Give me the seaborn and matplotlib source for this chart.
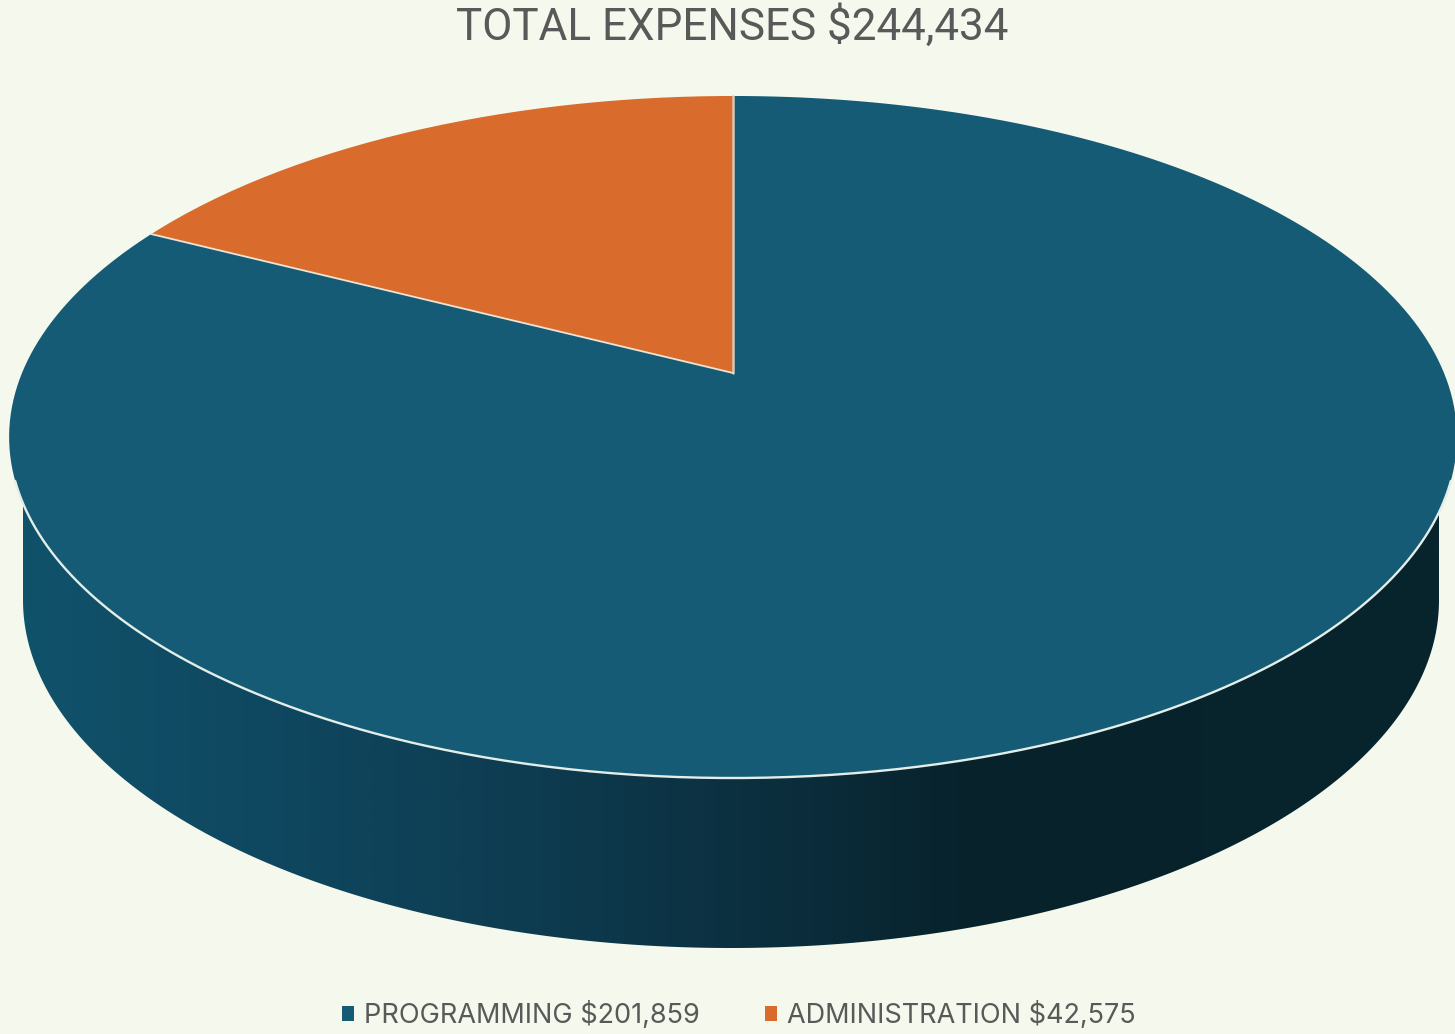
import numpy as np
import seaborn as sns
from matplotlib import pyplot as plt
from matplotlib.colors import LinearSegmentedColormap
from matplotlib.patches import Polygon
from matplotlib.path import Path
from matplotlib.transforms import Transform

labels = ['PROGRAMMING $201,859', 'ADMINISTRATION $42,575']
amounts = [201859, 42575]
colors = ['#155B76', '#D96C2C']
title = 'TOTAL EXPENSES $244,434'

bg = '#F5F8EC'
text_col = '#595959'
rim_col = '#E3EEE8'
# side wall shading, left to right
wall_stops = [(0.0, '#11526B'), (0.2, '#0E465E'), (0.34, '#0E3D52'), (0.48, '#0C3243'),
              (0.56, '#0B2C3A'), (0.67, '#07222B'), (1.0, '#08242D')]


# tilted disc: unit circle seen in perspective, output is in image pixels
class TiltedDisc(Transform):
    input_dims = 2
    output_dims = 2
    is_separable = False

    def __init__(self, cx=733, cy=373, sx=711, sy=329, k=0.1877):
        super().__init__()
        self.cx, self.cy, self.sx, self.sy, self.k = cx, cy, sx, sy, k

    def transform_non_affine(self, values):
        values = np.asarray(values)
        d = 1 + self.k * values[:, 1]
        return np.column_stack([self.cx + self.sx * values[:, 0] / d,
                                self.cy - self.sy * values[:, 1] / d])

    def transform_path_non_affine(self, path):
        if path.codes is None:
            return Path(self.transform_non_affine(path.vertices))
        # flatten the curves first, control points do not survive the tilt
        big = Path(path.vertices * 1000, path.codes)
        poly = big.to_polygons(closed_only=True)[0] / 1000
        return Path(self.transform_non_affine(poly), closed=True)


sns.set_theme(style='white', rc={'figure.facecolor': bg, 'axes.facecolor': bg})
plt.rcParams['font.family'] = ['Roboto', 'DejaVu Sans']

fig = plt.figure(figsize=(14.55, 10.34), dpi=100)
ax = fig.add_axes([0, 0, 1, 1])

palette = sns.color_palette(colors)
wedges, _ = ax.pie(amounts, colors=palette, startangle=90, counterclock=False, radius=1)
ax.set_aspect('auto')
ax.axis('off')

top_disc = TiltedDisc()
for w in wedges:
    w.set_transform(top_disc + ax.transData)
    w.set_linewidth(0)
    w.set_zorder(3)

# side wall: gradient clipped to the outline from top rim to lower rim
t = np.linspace(0, 2 * np.pi, 721)
circle = np.column_stack([np.cos(t), np.sin(t)])
top_rim = top_disc.transform_non_affine(circle)
low_x = 731 + 708 * np.cos(t)
low_y = 600 + 348 * np.sin(t)
upper = top_rim[top_rim[:, 1] < 480]
upper = upper[np.argsort(-upper[:, 0])]
lower = np.column_stack([low_x, low_y])
lower = lower[low_y > 600]
lower = lower[np.argsort(lower[:, 0])]
outline = Polygon(np.vstack([lower, upper]), closed=True, transform=ax.transData, fc='none', ec='none')
ax.add_patch(outline)

wall_cmap = LinearSegmentedColormap.from_list('wall', wall_stops)
img = ax.imshow(np.linspace(0, 1, 512).reshape(1, -1), cmap=wall_cmap, aspect='auto',
                extent=(23, 1439, 950, 430), zorder=2, interpolation='bilinear')
img.set_clip_path(outline)
ax.set_xlim(0, 1455)
ax.set_ylim(1034, 0)

# light lines: front rim and the two wedge edges
split = 2 * np.pi * amounts[1] / sum(amounts)
a = np.linspace(np.radians(-162), np.radians(-18), 300)
ax.plot(np.cos(a), np.sin(a), color=rim_col, lw=1.7, zorder=4,
        transform=top_disc + ax.transData)
ax.plot([0, 0], [0, 1], color='#D9C8B4', lw=1.8, zorder=4, transform=top_disc + ax.transData)
ax.plot([0, -np.sin(split)], [0, np.cos(split)], color='#EFE3D2', lw=1.3, zorder=4,
        transform=top_disc + ax.transData)

ax.text(732, 27, title, ha='center', va='center', fontsize=31.7, color=text_col)

leg = ax.legend(wedges, labels, loc='center', bbox_to_anchor=(738.5, 1015), bbox_transform=ax.transData,
                ncol=2, frameon=False, prop={'family': 'Inter', 'size': 19.5}, labelcolor=text_col,
                handlelength=0.45, handleheight=0.45, handletextpad=0.37, columnspacing=2.4,
                borderpad=0, borderaxespad=0)

plt.savefig('out.png', dpi=100, facecolor=bg)
